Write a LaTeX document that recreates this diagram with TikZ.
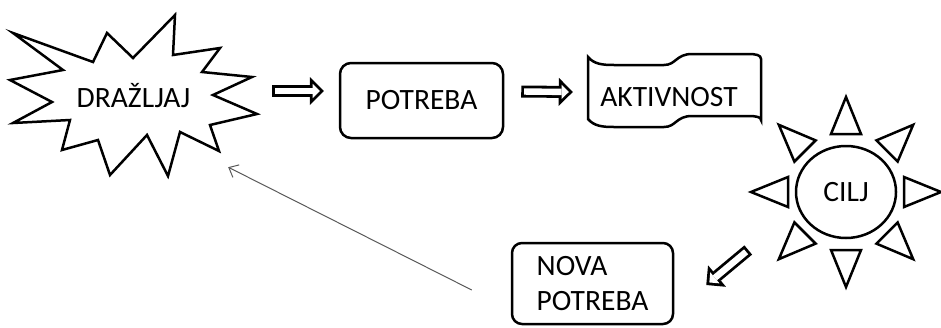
\documentclass[tikz,border=0pt]{standalone}
\usepackage{fontspec}
\setmainfont{Carlito}
\usetikzlibrary{positioning, calc, arrows.meta, shapes.geometric}

% hollow block arrow: black outline first, white inside on top
\newcommand{\hollowarrow}[2]{%
  \draw[blockout] #1 -- #2;
  \draw[blockin] #1 -- #2;}

\begin{document}
\begin{tikzpicture}[x=1pt, y=-1pt, font=\fontsize{29.5}{35}\selectfont,
  shape line/.style={draw, line width=2.5pt},
  roundbox/.style={rectangle, shape line, rounded corners=11pt, inner sep=0pt},
  blockout/.style={line width=12pt, -{Triangle[length=14pt, width=28pt, line width=0pt]}},
  blockin/.style={white, line width=6.4pt, shorten <=2.8pt, shorten >=4pt,
                  -{Triangle[length=7.2pt, width=14.4pt, line width=0pt]}},
  thin/.style={black!65, line width=1pt, -{Straight Barb[length=8pt, width=14pt]}},
]
  \useasboundingbox (0,0) rectangle (941,327);

  % stimulus: explosion outline around the text
  \node[minimum width=248pt, minimum height=162pt, inner sep=0pt] (drazljaj)
    at (133.5,96) {DRAŽLJAJ};
  \draw[shape line] (13,33) -- (93,62) -- (107,33) -- (133,58) -- (175,15)
    -- (173,55) -- (220,48) -- (202,72) -- (252,77) -- (213,95) -- (257,114)
    -- (210,125) -- (219,151) -- (180,132) -- (168,176) -- (147,135)
    -- (110,175) -- (98,140) -- (62,150) -- (70,120) -- (13,123) -- (52,102)
    -- (10,80) -- (63,70) -- cycle;

  \node[roundbox, minimum width=163pt, minimum height=75pt] (potreba)
    at (421.5,100.5) {POTREBA};

  % activity: waving tape
  \node[minimum width=162pt, minimum height=60pt, inner sep=0pt] (aktivnost)
    at (669,97) {AKTIVNOST};
  \draw[shape line] (588,57) .. controls (594,64) and (602,65) .. (614,65)
    -- (664,65) .. controls (676,65) and (676,54) .. (692,54)
    -- (748,54) .. controls (756,54) and (761,55) .. (761,59)
    -- (761,120) .. controls (761,117) and (756,116) .. (748,116)
    -- (692,116) .. controls (676,116) and (676,127) .. (664,127)
    -- (614,127) .. controls (602,127) and (594,126) .. (588,119) -- cycle;

  % goal: sun
  \node[ellipse, shape line, minimum width=100pt, minimum height=92pt, inner sep=0pt]
    (cilj) at (846,192) {CILJ};
  \foreach \a in {0,45,...,315}
    \draw[shape line, shift={(cilj.center)}, rotate=\a]
      (58,-15) -- (95,0) -- (58,15) -- cycle;

  \node[roundbox, rounded corners=10pt, minimum width=161pt, minimum height=81pt,
        align=left] (nova) at (592.5,283.5) {NOVA\\POTREBA};

  \hollowarrow{([shift={(14.5,-5)}]drazljaj.east)}{([shift={(-15,-9.5)}]potreba.west)}
  \hollowarrow{([shift={(17,-9)}]potreba.east)}{([shift={(-15,-5)}]aktivnost.west)}
  \hollowarrow{([shift={(74,-33.5)}]nova.east)}{([shift={(32,1.5)}]nova.east)}
  \draw[thin] ([shift={(-39,6.5)}]nova.west) -- ([shift={(-29.5,-10)}]drazljaj.south east);
\end{tikzpicture}
\end{document}
